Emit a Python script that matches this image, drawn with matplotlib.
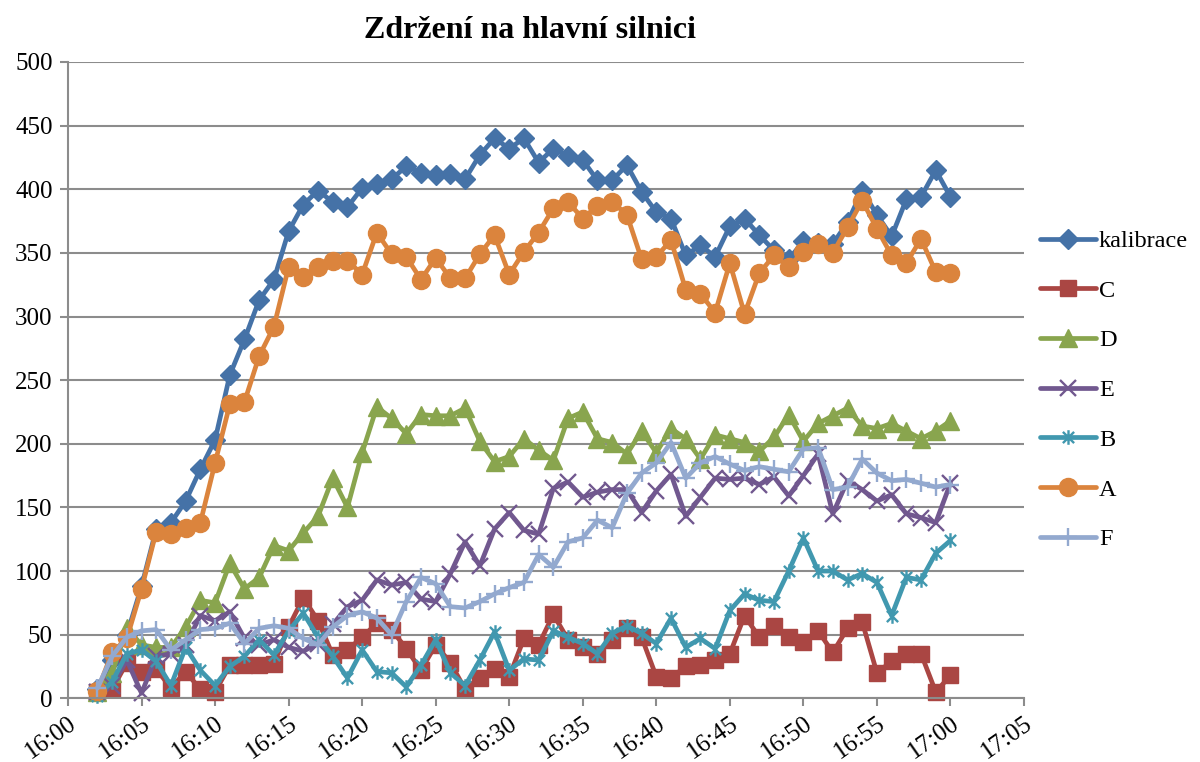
import matplotlib
matplotlib.use("Agg")
import matplotlib.pyplot as plt
import numpy as np
from matplotlib.path import Path

# ---------------- data ----------------
title = "Zdržení na hlavní silnici"
start_min = 2   # 16:02
end_min = 60    # 17:00
minutes = list(range(start_min, end_min + 1))  # minutes after 16:00

kalibrace = [7, 30, 50, 88, 133, 138, 155, 180, 203, 254, 282, 313, 329, 367, 388, 399, 390, 386,
             401, 404, 408, 418, 413, 411, 412, 408, 427, 440, 432, 440, 421, 432, 426, 423, 407, 407,
             419, 398, 382, 377, 348, 356, 347, 371, 377, 364, 352, 345, 359, 358, 357, 374, 399, 380,
             363, 392, 394, 415, 394]
C = [5, 7, 28, 21, 23, 8, 21, 7, 5, 26, 26, 26, 27, 56, 79, 61, 34, 38, 48, 59, 54, 39, 22, 42, 28,
     7, 16, 23, 17, 47, 42, 66, 46, 40, 35, 46, 55, 48, 17, 16, 25, 26, 30, 35, 65, 48, 57, 48, 44,
     53, 36, 55, 60, 20, 29, 35, 35, 5, 18]
D = [5, 20, 55, 42, 40, 40, 56, 77, 75, 106, 86, 95, 120, 116, 130, 143, 173, 150, 193, 229, 220,
     208, 223, 222, 222, 228, 202, 186, 190, 204, 195, 187, 220, 225, 204, 201, 192, 210, 193, 212,
     204, 188, 207, 204, 201, 194, 205, 223, 202, 216, 222, 228, 214, 212, 216, 210, 204, 210, 218]
E = [5, 10, 30, 4, 33, 35, 42, 65, 61, 68, 47, 42, 46, 40, 37, 43, 58, 72, 77, 93, 89, 91, 78, 76,
     98, 123, 104, 133, 146, 132, 129, 165, 170, 158, 162, 164, 164, 146, 163, 176, 143, 158, 173,
     172, 173, 168, 174, 159, 175, 192, 145, 171, 164, 155, 160, 145, 142, 138, 169]
B = [2, 13, 35, 38, 29, 10, 40, 22, 10, 25, 33, 46, 34, 53, 67, 48, 33, 16, 38, 21, 20, 9, 26, 46,
     20, 10, 30, 52, 22, 31, 30, 53, 48, 43, 35, 51, 57, 51, 43, 63, 40, 47, 39, 69, 82, 77, 76, 100,
     126, 100, 100, 93, 98, 91, 65, 95, 93, 114, 124]
A = [6, 36, 47, 86, 131, 129, 134, 138, 185, 231, 233, 269, 292, 339, 331, 339, 344, 344, 333, 366,
     349, 347, 329, 346, 330, 330, 349, 364, 333, 351, 366, 385, 390, 377, 387, 390, 380, 345, 347,
     360, 321, 318, 303, 342, 302, 334, 348, 339, 351, 357, 350, 370, 391, 369, 348, 342, 361, 335, 334]
F = [8, 33, 48, 53, 54, 38, 46, 54, 55, 59, 43, 55, 57, 55, 47, 42, 56, 65, 68, 63, 50, 76, 95, 90,
     72, 71, 76, 82, 87, 91, 113, 103, 123, 126, 140, 134, 161, 177, 185, 201, 173, 185, 190, 184,
     179, 182, 180, 178, 196, 197, 164, 166, 188, 177, 171, 172, 169, 166, 168]

tick_minutes = list(range(0, 66, 5))
tick_labels = ["16:00", "16:05", "16:10", "16:15", "16:20", "16:25", "16:30", "16:35",
               "16:40", "16:45", "16:50", "16:55", "17:00", "17:05"]

# ---------------- style ----------------
plt.rcParams['font.family'] = ['Liberation Serif', 'DejaVu Serif']

# asterisk marker: X plus vertical bar (Excel style)
star_path = Path(
    [(-1, -1), (1, 1), (-1, 1), (1, -1), (0, -1.3), (0, 1.3)],
    [Path.MOVETO, Path.LINETO, Path.MOVETO, Path.LINETO, Path.MOVETO, Path.LINETO])

series = [
    ("kalibrace", kalibrace, "#4572A7", dict(marker="D", ms=10)),
    ("C", C, "#AA4643", dict(marker="s", ms=11)),
    ("D", D, "#89A54E", dict(marker="^", ms=12.5)),
    ("E", E, "#71588F", dict(marker="x", ms=11, mew=1.7)),
    ("B", B, "#4198AF", dict(marker=star_path, ms=10.5, mew=1.7)),
    ("A", A, "#DB843D", dict(marker="o", ms=13)),
    ("F", F, "#93A9CF", dict(marker="+", ms=13, mew=1.7)),
]

fig = plt.figure(figsize=(12, 7.62), dpi=100)
ax = fig.add_axes([68 / 1200, 1 - 698.3 / 762, (1024 - 68) / 1200, (698.3 - 62) / 762])

for name, vals, col, mk in series:
    ax.plot(minutes, vals, color=col, lw=3.4, label=name, solid_joinstyle="round",
            solid_capstyle="round", clip_on=False, **mk)

ax.set_xlim(0, 65)
ax.set_ylim(0, 500)
ax.set_yticks(range(0, 501, 50))
ax.set_xticks(tick_minutes)
ax.set_xticklabels(tick_labels, rotation=35, ha="right", rotation_mode="anchor")

ax.grid(axis="y", color="#8c8c8c", lw=1.5)
ax.set_axisbelow(True)
for s in ("top", "right"):
    ax.spines[s].set_visible(False)
for s in ("left", "bottom"):
    ax.spines[s].set_color("#8c8c8c")
    ax.spines[s].set_linewidth(1.5)
ax.tick_params(axis="both", colors="#8c8c8c", width=1.5, length=6, labelsize=18,
               labelcolor="black")
ax.tick_params(axis="x", pad=4)
ax.tick_params(axis="y", pad=5)

fig.text(530 / 1200, 1 - 30 / 762, title, ha="center", va="center", fontsize=23,
         fontweight="bold")

fig.legend(loc="upper left", bbox_to_anchor=(1040 / 1200, 1 - 230 / 762), frameon=False,
           fontsize=17.5, handlelength=2.3, handletextpad=0.12, labelspacing=1.14,
           borderpad=0, borderaxespad=0)

fig.savefig("out.png", dpi=100)
